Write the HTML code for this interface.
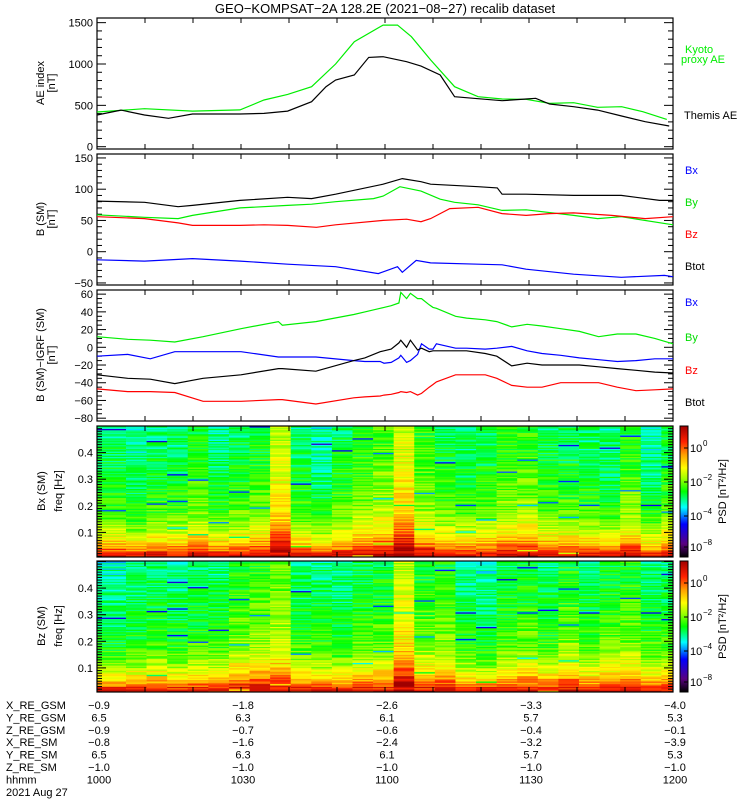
<!DOCTYPE html>
<html><head><meta charset="utf-8"><style>
html,body{margin:0;padding:0;background:#fff;}
svg{display:block;font-family:"Liberation Sans",sans-serif;}
text{font-size:11px;}
</style></head><body>
<svg id="chart" width="750" height="800" viewBox="0 0 750 800" xmlns="http://www.w3.org/2000/svg">
<defs>
<linearGradient id="cmap" x1="0" y1="1" x2="0" y2="0">
<stop offset="0" stop-color="#000000"/><stop offset="0.1" stop-color="#5a0080"/><stop offset="0.25" stop-color="#0000ff"/><stop offset="0.38" stop-color="#00ffff"/><stop offset="0.5" stop-color="#00ff00"/><stop offset="0.6" stop-color="#a0ff00"/><stop offset="0.68" stop-color="#ffff00"/><stop offset="0.78" stop-color="#ffa000"/><stop offset="0.88" stop-color="#ff2000"/><stop offset="1" stop-color="#a00000"/>
</linearGradient>
</defs>
<text x="385" y="13" text-anchor="middle" style="font-size:13px">GEO−KOMPSAT−2A 128.2E (2021−08−27) recalib dataset</text>
<g id="g"></g>
</svg>
<script>
// ---- data ----
const aeKyotoT = [0,9.9,19.9,29.8,34.8,39.7,44.7,49.7,53.6,59.6,62.6,65.5,69.5,74.5,79.4,84.4,89.4,94.3,99.3,104.3,109.3,113.7,118.7];
const aeKyoto  = [420,460,430,445,565,633,725,1000,1270,1470,1470,1330,1050,725,605,577,573,524,532,476,484,423,330];
const aeThemisT = [0,5,9.9,14.9,19.9,29.8,34.8,39.7,44.7,47.7,49.7,53.6,56.6,59.6,64.5,67.5,71.5,74.5,79.4,84.4,89.4,91.4,94.3,99.3,104.3,109.3,114.2,119.2];
const aeThemis  = [383,443,383,343,395,395,403,431,544,725,806,867,1080,1088,1028,975,867,605,580,556,577,585,516,484,443,371,302,250];

const btotT = [0,9.9,16.9,19.9,29.8,39.7,44.7,49.7,59.6,63.6,67.5,69.5,79.4,83.4,84.4,89.4,99.3,109.2,117.2,120];
const btot  = [81,79,72,74,82,87,85,92,108,117,112,108,104,102,92,92,90,90,82,82];
const byT = [0,9.9,16.9,19.9,29.8,39.7,44.7,49.7,57.6,59.6,63.1,67.5,71.5,74.5,79.4,84.4,89.4,99.3,104.3,109.2,120];
const by  = [59,55,53,58,70,74,76,80,85,89,104,97,84,79,75,66,67,58,53,56,43];
const bzT = [0,9.9,16.9,19.9,29.8,34.8,39.7,45.7,49.7,59.6,64.5,67.5,69.5,73.5,79.4,84.4,89.4,94.3,99.3,107.2,114.2,120];
const bz  = [56,53,46,42,42,43,42,39,43,50,52,48,53,69,71,61,58,61,62,58,53,56];
const bxT = [0,9.9,19.9,29.8,39.7,49.7,58.6,62.6,63.6,66.5,69.5,79.4,84.4,89.4,99.3,109.2,118.2,120];
const bx  = [-13,-15,-11,-15,-20,-24,-35,-24,-33,-14,-18,-20,-21,-28,-36,-41,-38,-40];

const dT = [0,6.4,11.1,16.2,22.1,30,37.8,38.6,45.6,53.5,55.8,59,59.8,61.3,62.9,63.3,64.5,65.3,66.8,67.6,69.2,70,70.7,74.7,77,80.9,83.3,86.4,89.6,92.7,96.6,100.5,104.5,108.4,112.3,116.2,120];
const dBy = [12,9,8,6,12,21,29,25,29,37,40,44,45,47,50,62,55,61,55,55,48,45,44,35,33,31,29,23,26,24,21,18,12,15,15,10,4];
const dBx = [-10,-8,-13,-5,-5,-5,-11,-11,-11,-15,-16,-16,-18,-17,-12,-9,-17,-15,-8,4,-2,-2,4,-1,-1,-2,-1,1,-4,-7,-9,-12,-14,-16,-15,-13,-13];
const dBtot = [-31,-35,-36,-41,-35,-31,-24,-24,-27,-15,-12,-5,-4,-2,5,8,0,8,-3,-1,-5,-4,-4,-4,-4,-7,-10,-21,-18,-20,-20,-20,-22,-24,-26,-28,-29];
const dBz = [-47,-50,-50,-51,-61,-61,-59,-59,-64,-57,-56,-55,-54,-53,-51,-50,-51,-50,-54,-52,-45,-42,-39,-31,-31,-31,-35,-43,-45,-45,-40,-40,-40,-45,-49,-48,-47];

const colLevelBx = [0.3,0.2,0.3,0.3,0.4,0.25,0.35,0.4,0.8,0.3,0.2,0.35,0.45,0.55,0.85,0.5,0.35,0.3,0.35,0.45,0.5,0.35,0.35,0.3,0.25,0.45,0.2,0.35];
const colLevelBz = [0.2,0.25,0.3,0.25,0.3,0.3,0.45,0.5,0.6,0.3,0.3,0.25,0.35,0.4,0.8,0.45,0.45,0.25,0.2,0.35,0.4,0.3,0.45,0.3,0.4,0.45,0.3,0.3];
const freqProfile = [0.95,0.92,0.88,0.84,0.8,0.77,0.74,0.71,0.69,0.67,0.65,0.63,0.62,0.6,0.59,0.58,0.57,0.56,0.55,0.55,0.54,0.54,0.53,0.53,0.52,0.52,0.52,0.51,0.51,0.51,0.5,0.5,0.5,0.5,0.49,0.49,0.49,0.49,0.48,0.48,0.48,0.48,0.48,0.47,0.47,0.47,0.47,0.46,0.46,0.46];
const jitter = [0.03,-0.04,0.05,-0.02,0.0,0.04,-0.05,0.02,-0.03,0.05,-0.01,0.01,-0.04,0.06,-0.01,0.03,-0.06,0.04,-0.02,0.02,-0.05,0.05,0.0,-0.03,0.06,-0.05,0.02,-0.01,0.04,-0.03,0.03,-0.04,0.01,0.06,-0.06,0.02,-0.02,0.05,-0.03,0.0,-0.07,0.04,-0.02,0.01,0.05,-0.04,0.02,-0.06,0.03,0.0,-0.24,0.04,-0.03,0.02,0.06,-0.05,0.01,-0.02,0.03,-0.04,0.05];

const timeLabels = ['1000','1030','1100','1130','1200'];
const rowNames = ['X_RE_GSM','Y_RE_GSM','Z_RE_GSM','X_RE_SM','Y_RE_SM','Z_RE_SM','hhmm'];
const rowVals = [['−0.9','−1.8','−2.6','−3.3','−4.0'],['6.5','6.3','6.1','5.7','5.3'],['−0.9','−0.7','−0.6','−0.4','−0.1'],['−0.8','−1.6','−2.4','−3.2','−3.9'],['6.5','6.3','6.1','5.7','5.3'],['−1.0','−1.0','−1.0','−1.0','−1.0'],timeLabels];

// ---- helpers ----
const NS='http://www.w3.org/2000/svg';
const G=document.getElementById('g');
function el(tag,attrs,parent){const e=document.createElementNS(NS,tag);for(const k in attrs)e.setAttribute(k,attrs[k]);(parent||G).appendChild(e);return e;}
const X0=97,X1=673;
function xT(t){return X0+t*(X1-X0)/120;}
const panels=[{top:18,bot:149},{top:154,bot:285},{top:290,bot:421},{top:426,bot:557},{top:561,bot:692}];
const yP=[v=>146.7-v*0.0827, v=>251.7-0.625*v, v=>347.3-0.886*v, f=>559-266*f, f=>694.5-266*f];

function fmt(v){return v<0?'−'+Math.abs(v):String(v);}
function colorAt(f){
  const st=[[0,[0,0,0]],[0.1,[90,0,128]],[0.25,[0,0,255]],[0.38,[0,255,255]],[0.5,[0,255,0]],[0.6,[160,255,0]],[0.68,[255,255,0]],[0.78,[255,160,0]],[0.88,[255,32,0]],[1,[160,0,0]]];
  f=Math.max(0,Math.min(1,f));
  for(let i=1;i<st.length;i++){if(f<=st[i][0]){const a=st[i-1],b=st[i],u=(f-a[0])/(b[0]-a[0]);return 'rgb('+a[1].map((c,k)=>Math.round(c+(b[1][k]-c)*u)).join(',')+')';}}
  return 'rgb(160,0,0)';
}

function drawLine(p,ts,vs,color,name){
  const pts=ts.map((t,i)=>xT(t).toFixed(1)+','+yP[p](vs[i]).toFixed(1)).join(' ');
  const l=el('polyline',{points:pts,fill:'none',stroke:color,'stroke-width':1.2});
  
  
}

function frame(p,yMin,yMax,minor,major,labels,name){
  const P=panels[p];
  const g=el('g',{});
  
  
  el('rect',{x:X0,y:P.top,width:X1-X0,height:P.bot-P.top,fill:'none',stroke:'#000','stroke-width':1.2},g);
  for(let i=0;i<=12;i++){const x=X0+i*48;el('line',{x1:x,y1:P.top,x2:x,y2:P.top+5,stroke:'#000'},g);el('line',{x1:x,y1:P.bot,x2:x,y2:P.bot-5,stroke:'#000'},g);}
  const n=Math.round((yMax-yMin)/minor);
  for(let i=0;i<=n;i++){const v=yMin+i*minor;const y=yP[p](v);if(y<P.top-0.5||y>P.bot+0.5)continue;
    const isM=Math.abs(v/major-Math.round(v/major))<1e-6;const L=isM?9:5;
    el('line',{x1:X0,y1:y,x2:X0+L,y2:y,stroke:'#000'},g);el('line',{x1:X1,y1:y,x2:X1-L,y2:y,stroke:'#000'},g);}
  labels.forEach(v=>{const t=el('text',{x:93,y:yP[p](v)+4,'text-anchor':'end'},g);t.textContent=p>=3?String(v):fmt(v);
    });
}

function ytitle(x,y,txt,name){const t=el('text',{x:x,y:y,'text-anchor':'middle',transform:'rotate(-90 '+x+' '+y+')'});t.textContent=txt;
  }
function label(x,y,txt,color,name){const t=el('text',{x:x,y:y,style:'fill:'+color});t.textContent=txt;
  }

// ---- spectrograms ----
function spectro(p,levels,name){
  const g=el('g',{});
  
  
  const P=panels[p];
  const J=jitter.length;
  for(let c=0;c<levels.length;c++){
    const t0=c===0?0:6.04+(c-1)*4.29, t1=Math.min(120,6.04+c*4.29);
    for(let r=0;r<freqProfile.length;r++){
      for(let s=0;s<2;s++){
        const k=(r*2+s);
        const f=freqProfile[r]+(levels[c]-0.35)*0.36*(r>2?1:0.3)+jitter[(k*23+c*37+((k*c)%7)*11+p*5)%J];
        let y0=yP[p](r*0.01+s*0.005),y1=yP[p](r*0.01+(s+1)*0.005);
        y0=Math.min(y0,P.bot);y1=Math.max(y1,P.top);
        if(y0<=y1)continue;
        const rc=el('rect',{x:xT(t0).toFixed(2),y:y1.toFixed(2),width:(xT(t1)-xT(t0)+0.3).toFixed(2),height:(y0-y1+0.3).toFixed(2),fill:colorAt(f)},g);
        
        
      }
    }
  }
}
spectro(3,colLevelBx,'bx-spectrogram');
spectro(4,colLevelBz,'bz-spectrogram');

// ---- frames ----
frame(0,0,1550,100,500,[1500,1000,500,0],'ae');
frame(1,-50,150,10,50,[150,100,50,0,-50],'bsm');
frame(2,-80,60,5,20,[60,40,20,0,-20,-40,-60,-80],'bdiff');
frame(3,0,0.5,0.01,0.1,[0.4,0.3,0.2,0.1],'bx-spec');
frame(4,0,0.5,0.01,0.1,[0.4,0.3,0.2,0.1],'bz-spec');

// ---- lines ----
drawLine(0,aeKyotoT,aeKyoto,'#00ee00','kyoto-ae-line');
drawLine(0,aeThemisT,aeThemis,'#000','themis-ae-line');
drawLine(1,btotT,btot,'#000','btot-line');
drawLine(1,byT,by,'#00ee00','by-line');
drawLine(1,bzT,bz,'#ff0000','bz-line');
drawLine(1,bxT,bx,'#0000ff','bx-line');
drawLine(2,dT,dBy,'#00ee00','dby-line');
drawLine(2,dT,dBx,'#0000ff','dbx-line');
drawLine(2,dT,dBtot,'#000','dbtot-line');
drawLine(2,dT,dBz,'#ff0000','dbz-line');

// ---- titles & legends ----
ytitle(44,83,'AE index','ae-axis-title');ytitle(55,83,'[nT]','ae-axis-unit');
ytitle(44,219,'B (SM)','bsm-axis-title');ytitle(55,219,'[nT]','bsm-axis-unit');
ytitle(44,355,'B (SM)−IGRF (SM)','bdiff-axis-title');ytitle(55,355,'[nT]','bdiff-axis-unit');
ytitle(45,491,'Bx (SM)','bx-spec-title');ytitle(62,491,'freq [Hz]','bx-freq-title');
ytitle(45,626,'Bz (SM)','bz-spec-title');ytitle(62,626,'freq [Hz]','bz-freq-title');
label(685,53,'Kyoto','#00ee00','legend-kyoto');label(681,63,'proxy AE','#00ee00','legend-proxy-ae');
label(684,119,'Themis AE','#000','legend-themis-ae');
[[174,'Bx','#0000ff'],[206,'By','#00dd00'],[238,'Bz','#ff0000'],[270,'Btot','#000']].forEach(a=>label(685,a[0],a[1],a[2],'legend-'+a[1].toLowerCase()));
[[306,'Bx','#0000ff'],[341,'By','#00dd00'],[374,'Bz','#ff0000'],[406,'Btot','#000']].forEach(a=>label(685,a[0],a[1],a[2],'legend-diff-'+a[1].toLowerCase()));

// ---- colorbars ----
[3,4].forEach(p=>{const P=panels[p];
  const cb=el('rect',{x:680,y:P.top,width:8,height:P.bot-P.top,fill:'url(#cmap)',stroke:'#000','stroke-width':1});
  
  [[22,'0'],[56,'−2'],[90,'−4'],[121,'−8']].forEach(a=>{const y=P.top+a[0];
    el('line',{x1:684,y1:y,x2:688,y2:y,stroke:'#000'});
    const t=el('text',{x:690,y:y+4});t.textContent='10';
    
    const s=el('text',{x:703,y:y-2,style:'font-size:8px'});s.textContent=a[1];
    });
  const mid=(P.top+P.bot)/2;ytitle(726,mid,'PSD [nT²/Hz]','colorbar-title');});

// ---- bottom ephemeris table ----
const RY=709, RP=12.4;
rowNames.forEach((n,i)=>{const y=RY+i*RP;label(6,y,n,'#000','row-label-'+n.toLowerCase());
  rowVals[i].forEach((v,j)=>{const t=el('text',{x:X0+j*144+2,y:y,'text-anchor':'middle'});t.textContent=v;
    });});
label(6,RY+7*RP,'2021 Aug 27','#000','date-label');
</script>
</body></html>
